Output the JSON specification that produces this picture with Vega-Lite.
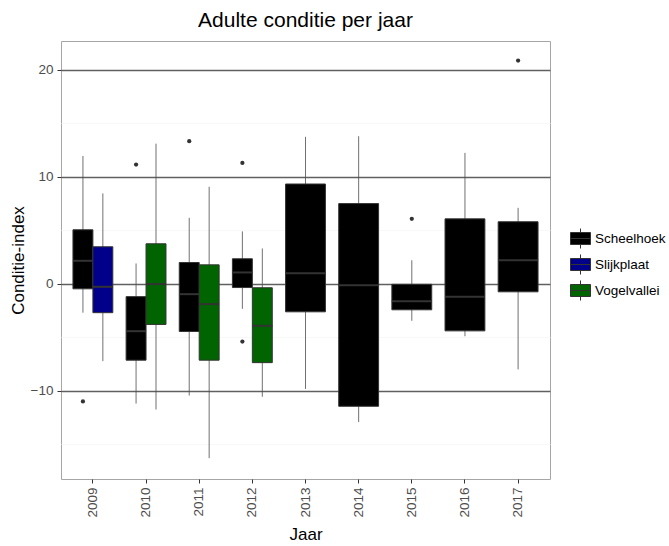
{
  "$schema": "https://vega.github.io/schema/vega-lite/v6.json",
  "width": 489,
  "height": 438,
  "autosize": {"type": "none"},
  "padding": {"left": 61, "top": 41, "right": 119, "bottom": 67},
  "title": {"text": "Adulte conditie per jaar", "fontSize": 21, "fontWeight": "normal", "font": "Liberation Sans", "color": "black", "anchor": "middle", "offset": 10},
  "data": {"values": [
    {"Jaar": "2009", "Locatie": "Scheelhoek", "lower": -2.7, "q1": -0.47, "median": 2.15, "q3": 5.05, "upper": 11.95, "outliers": [-11.0]},
    {"Jaar": "2009", "Locatie": "Slijkplaat", "lower": -7.23, "q1": -2.7, "median": -0.28, "q3": 3.46, "upper": 8.45, "outliers": []},
    {"Jaar": "2010", "Locatie": "Scheelhoek", "lower": -11.2, "q1": -7.14, "median": -4.43, "q3": -1.2, "upper": 1.9, "outliers": [11.15]},
    {"Jaar": "2010", "Locatie": "Vogelvallei", "lower": -11.75, "q1": -3.8, "median": -0.03, "q3": 3.74, "upper": 13.1, "outliers": []},
    {"Jaar": "2011", "Locatie": "Scheelhoek", "lower": -10.45, "q1": -4.46, "median": -0.97, "q3": 1.99, "upper": 6.17, "outliers": [13.33]},
    {"Jaar": "2011", "Locatie": "Vogelvallei", "lower": -16.3, "q1": -7.14, "median": -1.9, "q3": 1.77, "upper": 9.07, "outliers": []},
    {"Jaar": "2012", "Locatie": "Scheelhoek", "lower": -2.34, "q1": -0.35, "median": 1.06, "q3": 2.34, "upper": 4.9, "outliers": [11.3, -5.4]},
    {"Jaar": "2012", "Locatie": "Vogelvallei", "lower": -10.56, "q1": -7.37, "median": -3.93, "q3": -0.37, "upper": 3.3, "outliers": []},
    {"Jaar": "2013", "Locatie": "Scheelhoek", "lower": -9.83, "q1": -2.62, "median": 0.99, "q3": 9.33, "upper": 13.74, "outliers": []},
    {"Jaar": "2014", "Locatie": "Scheelhoek", "lower": -12.93, "q1": -11.45, "median": -0.13, "q3": 7.5, "upper": 13.8, "outliers": []},
    {"Jaar": "2015", "Locatie": "Scheelhoek", "lower": -3.46, "q1": -2.43, "median": -1.63, "q3": -0.05, "upper": 2.2, "outliers": [6.07]},
    {"Jaar": "2016", "Locatie": "Scheelhoek", "lower": -4.9, "q1": -4.4, "median": -1.22, "q3": 6.07, "upper": 12.24, "outliers": []},
    {"Jaar": "2017", "Locatie": "Scheelhoek", "lower": -8.0, "q1": -0.75, "median": 2.2, "q3": 5.8, "upper": 7.1, "outliers": [20.87]}
  ]},
  "transform": [
    {"joinaggregate": [{"op": "count", "as": "n"}], "groupby": ["Jaar"]},
    {"window": [{"op": "row_number", "as": "slot"}], "groupby": ["Jaar"], "sort": [{"field": "Locatie", "order": "ascending"}]}
  ],
  "encoding": {
    "x": {
      "field": "Jaar", "type": "nominal", "title": "Jaar",
      "scale": {"paddingInner": 0.25, "paddingOuter": 0.225},
      "axis": {"labelAngle": 270, "grid": false, "tickSize": 4, "labelPadding": 4, "titlePadding": 9}
    }
  },
  "layer": [
    {
      "transform": [{"filter": "datum.n == 2"}],
      "encoding": {"xOffset": {"field": "slot", "type": "ordinal", "scale": {"paddingInner": 0, "paddingOuter": 0}}},
      "layer": [
        {
          "mark": {"type": "rule", "color": "#4d4d4d", "strokeWidth": 0.8},
          "encoding": {
            "y": {"field": "lower", "type": "quantitative", "title": "Conditie-index",
              "scale": {"domain": [-18.25, 22.7], "nice": false, "zero": false},
              "axis": {
                "values": [-15, -10, -5, 0, 5, 10, 15, 20],
                "labelExpr": "datum.value % 10 == 0 ? datum.label : ''",
                "grid": true,
                "gridColor": {"condition": {"test": "datum.value % 10 == 0", "value": "#606060"}, "value": "#f8f8f8"},
                "gridWidth": {"condition": {"test": "datum.value % 10 == 0", "value": 1.5}, "value": 1},
                "tickOpacity": {"condition": {"test": "datum.value % 10 == 0", "value": 1}, "value": 0},
                "tickSize": 4, "labelPadding": 4, "titlePadding": 3
              }
            },
            "y2": {"field": "upper"}
          }
        },
        {
          "mark": {"type": "bar", "stroke": "#333333", "strokeWidth": 1},
          "encoding": {
            "y": {"field": "q1", "type": "quantitative", "title": "Conditie-index"},
            "y2": {"field": "q3"},
            "color": {"field": "Locatie", "type": "nominal",
              "scale": {"domain": ["Scheelhoek", "Slijkplaat", "Vogelvallei"], "range": ["#000000", "#00008b", "#006400"]},
              "legend": {"title": null, "orient": "none", "legendX": 509, "legendY": 187,
                "symbolType": "M-1,-0.6H1V0.6H-1Z M0,-0.6V-1 M0,0.6V1 M-1,0H1",
                "symbolSize": 400, "symbolStrokeColor": "#333333", "symbolStrokeWidth": 1, "symbolOpacity": 1,
                "labelFontSize": 13.5, "labelFont": "Liberation Sans", "labelColor": "black", "labelOffset": 4, "rowPadding": 1, "padding": 0}
            }
          }
        },
        {
          "mark": {"type": "tick", "orient": "horizontal", "size": 20, "thickness": 2, "color": "#333333", "opacity": 1},
          "encoding": {"y": {"field": "median", "type": "quantitative", "title": "Conditie-index"}}
        },
        {
          "transform": [{"flatten": ["outliers"]}, {"filter": "isValid(datum.outliers)"}],
          "mark": {"type": "point", "filled": true, "size": 18, "color": "#333333", "opacity": 1},
          "encoding": {"y": {"field": "outliers", "type": "quantitative", "title": "Conditie-index"}}
        }
      ]
    },
    {
      "transform": [{"filter": "datum.n == 1"}],
      "layer": [
        {
          "mark": {"type": "rule", "color": "#4d4d4d", "strokeWidth": 0.8},
          "encoding": {
            "y": {"field": "lower", "type": "quantitative", "title": "Conditie-index"},
            "y2": {"field": "upper"}
          }
        },
        {
          "mark": {"type": "bar", "stroke": "#333333", "strokeWidth": 1},
          "encoding": {
            "y": {"field": "q1", "type": "quantitative", "title": "Conditie-index"},
            "y2": {"field": "q3"},
            "color": {"field": "Locatie", "type": "nominal"}
          }
        },
        {
          "mark": {"type": "tick", "orient": "horizontal", "size": 40, "thickness": 2, "color": "#333333", "opacity": 1},
          "encoding": {"y": {"field": "median", "type": "quantitative", "title": "Conditie-index"}}
        },
        {
          "transform": [{"flatten": ["outliers"]}, {"filter": "isValid(datum.outliers)"}],
          "mark": {"type": "point", "filled": true, "size": 18, "color": "#333333", "opacity": 1},
          "encoding": {"y": {"field": "outliers", "type": "quantitative", "title": "Conditie-index"}}
        }
      ]
    }
  ],
  "config": {
    "font": "Liberation Sans",
    "view": {"stroke": "#a6a6a6", "strokeWidth": 1},
    "axis": {
      "labelFont": "Liberation Sans", "titleFont": "Liberation Sans",
      "labelColor": "#4d4d4d", "titleColor": "black", "titleFontWeight": "normal",
      "labelFontSize": 13.5, "titleFontSize": 17, "tickColor": "#333333", "domain": false
    }
  }
}
